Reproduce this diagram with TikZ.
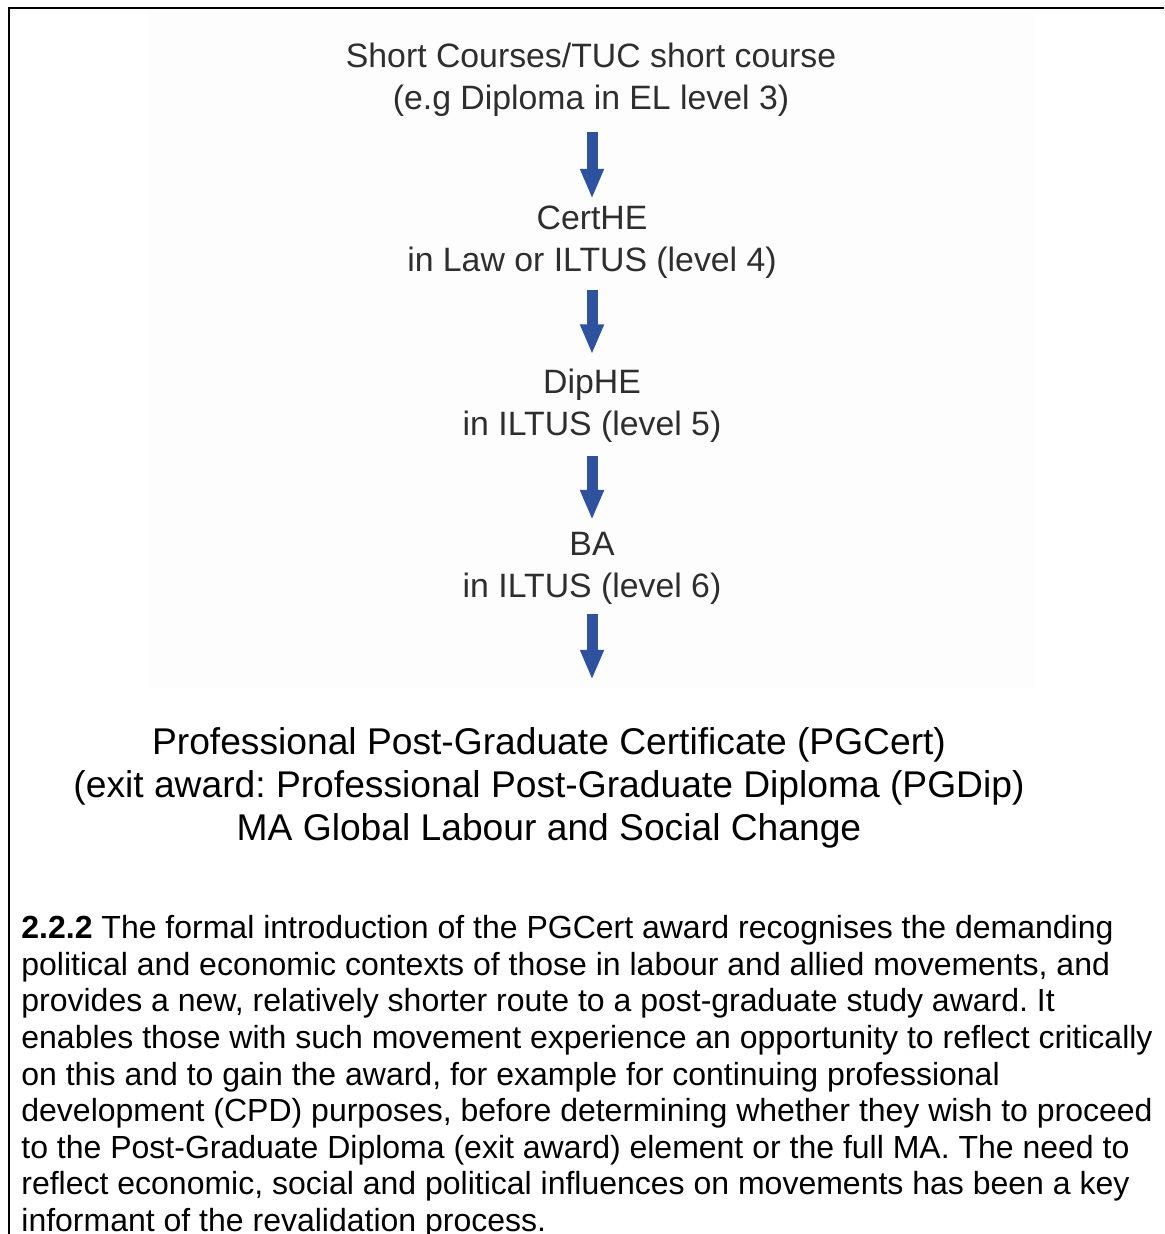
\documentclass[tikz,border=0pt]{standalone}
\usepackage{fontspec}
\setmainfont{Liberation Sans}
\usetikzlibrary{arrows.meta}
\frenchspacing

\definecolor{arrowblue}{RGB}{46,82,158}
\definecolor{panelgrey}{RGB}{253,253,253}

\tikzset{
  levelnode/.style={align=center, inner sep=0pt, text=black!82, font=\fontsize{16.9}{21}\selectfont},
  awardnode/.style={align=center, inner sep=0pt, font=\fontsize{18.6}{21.5}\selectfont},
  flowarrow/.style={arrowblue, line width=5.5pt, -{Triangle[width=11pt,length=15pt]}},
}

\begin{document}
\begin{tikzpicture}[x=0.5pt,y=-0.5pt]
        \useasboundingbox (0,0) rectangle (1164,1234);
        \fill[panelgrey] (147,10) rectangle (1035,688);
        \draw[line width=1pt] (8.5,1234) -- (8.5,8.5) -- (1164,8.5);

        \node[levelnode] (short) at (591,80) {Short Courses/TUC short course\\(e.g Diploma in EL level 3)};
        \node[levelnode] (cert) at (592,242.5) {CertHE\\in Law or ILTUS (level 4)};
        \node[levelnode] (dip) at (592,405.5) {DipHE\\in ILTUS (level 5)};
        \node[levelnode] (ba) at (592,568.5) {BA\\in ILTUS (level 6)};
        \node[awardnode] (pg) at (549,787.5) {Professional Post-Graduate Certificate (PGCert)\\(exit award: Professional Post-Graduate Diploma (PGDip)\\MA Global Labour and Social Change};

        \draw[flowarrow, shorten <=7.5pt, shorten >=3.5pt] (short.south -| cert.south) -- (cert.north);
        \draw[flowarrow, shorten <=5.5pt, shorten >=7pt] (cert.south) -- (dip.north);
        \draw[flowarrow, shorten <=6.5pt, shorten >=6pt] (dip.south) -- (ba.north);
        \draw[flowarrow, shorten <=4.5pt, shorten >=23.5pt] (ba.south) -- (ba.south |- pg.north);

        \node[anchor=north west, align=left, inner sep=0pt, font=\fontsize{16.0}{18.3}\selectfont] (para) at (21,915) {\textbf{2.2.2} The formal introduction of the PGCert award recognises the demanding\\
political and economic contexts of those in labour and allied movements, and\\
provides a new, relatively shorter route to a post-graduate study award. It\\
enables those with such movement experience an opportunity to reflect critically\\
on this and to gain the award, for example for continuing professional\\
development (CPD) purposes, before determining whether they wish to proceed\\
to the Post-Graduate Diploma (exit award) element or the full MA. The need to\\
reflect economic, social and political influences on movements has been a key\\
informant of the revalidation process.};
\end{tikzpicture}
\end{document}
